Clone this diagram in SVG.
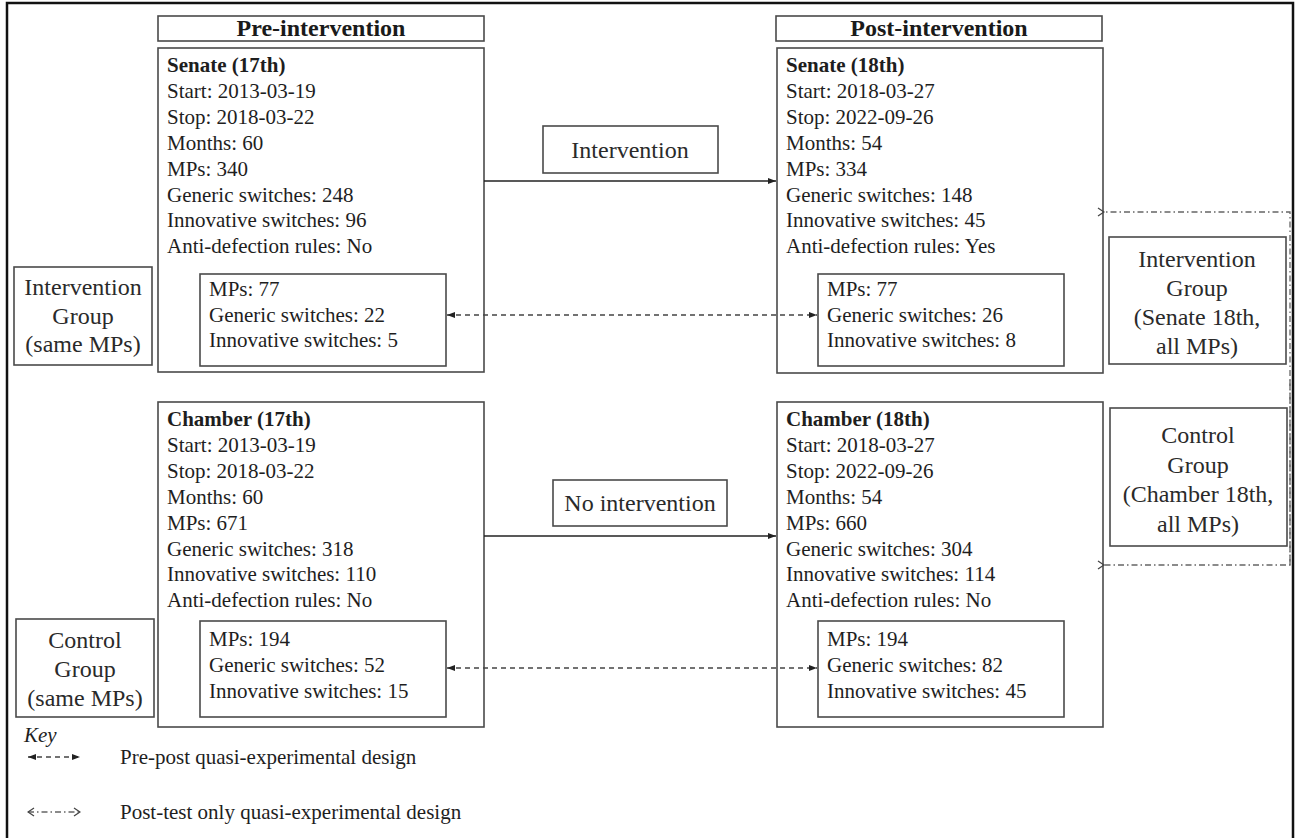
<svg xmlns="http://www.w3.org/2000/svg" width="1295" height="838" viewBox="0 0 1295 838">
<defs>
<style>
.box{fill:#fff;stroke:#4a4a4a;stroke-width:1.6}
.t{font-family:"Liberation Serif","Times New Roman",serif;font-size:21px;fill:#1e1e1e}
.b{font-weight:bold}
.h{font-family:"Liberation Serif","Times New Roman",serif;font-size:24px;font-weight:bold;fill:#1a1a1a}
.g{font-family:"Liberation Serif","Times New Roman",serif;font-size:24px;fill:#2a2a2a;text-anchor:middle}
.solid{stroke:#222;stroke-width:1.4;fill:none}
.dash{stroke:#444;stroke-width:1.5;fill:none;stroke-dasharray:5 4}
.dashdot{stroke:#666;stroke-width:1.3;fill:none;stroke-dasharray:6 3 1.5 3}
</style>
<marker id="fa" markerUnits="userSpaceOnUse" markerWidth="10" markerHeight="8" refX="8" refY="4" orient="auto-start-reverse"><path d="M0,1 L8,4 L0,7 Z" fill="#222"/></marker>
<marker id="oa" markerUnits="userSpaceOnUse" markerWidth="10" markerHeight="10" refX="1" refY="5" orient="auto"><path d="M7,1 L1,5 L7,9" fill="none" stroke="#444" stroke-width="1.3"/></marker>
<marker id="oe" markerUnits="userSpaceOnUse" markerWidth="10" markerHeight="10" refX="9" refY="5" orient="auto-start-reverse"><path d="M3,1 L9,5 L3,9" fill="none" stroke="#444" stroke-width="1.3"/></marker>
</defs>
<rect x="0" y="0" width="1295" height="838" fill="#fff"/>
<rect x="7" y="3" width="1286" height="850" fill="none" stroke="#111" stroke-width="2.5"/>

<g id="pre-title"><rect class="box" x="158" y="16" width="326" height="25"/><text class="h" x="321" y="36" text-anchor="middle">Pre-intervention</text></g>
<g id="post-title"><rect class="box" x="776" y="16" width="326" height="25"/><text class="h" x="939" y="36" text-anchor="middle">Post-intervention</text></g>

<g id="senate17"><rect class="box" x="158" y="48" width="326" height="324"/>
<text class="t" x="167" y="72"><tspan class="b">Senate (17th)</tspan><tspan x="167" dy="25.9">Start: 2013-03-19</tspan><tspan x="167" dy="25.9">Stop: 2018-03-22</tspan><tspan x="167" dy="25.9">Months: 60</tspan><tspan x="167" dy="25.9">MPs: 340</tspan><tspan x="167" dy="25.9">Generic switches: 248</tspan><tspan x="167" dy="25.9">Innovative switches: 96</tspan><tspan x="167" dy="25.9">Anti-defection rules: No</tspan></text></g>
<g id="senate17-sub"><rect class="box" x="200" y="274" width="246" height="92"/>
<text class="t" x="209" y="296">MPs: 77<tspan x="209" dy="25.5">Generic switches: 22</tspan><tspan x="209" dy="25.5">Innovative switches: 5</tspan></text></g>

<g id="senate18"><rect class="box" x="777" y="48" width="326" height="325"/>
<text class="t" x="786" y="72"><tspan class="b">Senate (18th)</tspan><tspan x="786" dy="25.9">Start: 2018-03-27</tspan><tspan x="786" dy="25.9">Stop: 2022-09-26</tspan><tspan x="786" dy="25.9">Months: 54</tspan><tspan x="786" dy="25.9">MPs: 334</tspan><tspan x="786" dy="25.9">Generic switches: 148</tspan><tspan x="786" dy="25.9">Innovative switches: 45</tspan><tspan x="786" dy="25.9">Anti-defection rules: Yes</tspan></text></g>
<g id="senate18-sub"><rect class="box" x="818" y="274" width="246" height="92"/>
<text class="t" x="827" y="296">MPs: 77<tspan x="827" dy="25.5">Generic switches: 26</tspan><tspan x="827" dy="25.5">Innovative switches: 8</tspan></text></g>

<g id="chamber17"><rect class="box" x="158" y="402" width="326" height="325"/>
<text class="t" x="167" y="426"><tspan class="b">Chamber (17th)</tspan><tspan x="167" dy="25.9">Start: 2013-03-19</tspan><tspan x="167" dy="25.9">Stop: 2018-03-22</tspan><tspan x="167" dy="25.9">Months: 60</tspan><tspan x="167" dy="25.9">MPs: 671</tspan><tspan x="167" dy="25.9">Generic switches: 318</tspan><tspan x="167" dy="25.9">Innovative switches: 110</tspan><tspan x="167" dy="25.9">Anti-defection rules: No</tspan></text></g>
<g id="chamber17-sub"><rect class="box" x="200" y="621" width="246" height="96"/>
<text class="t" x="209" y="646">MPs: 194<tspan x="209" dy="26">Generic switches: 52</tspan><tspan x="209" dy="26">Innovative switches: 15</tspan></text></g>

<g id="chamber18"><rect class="box" x="777" y="402" width="326" height="325"/>
<text class="t" x="786" y="426"><tspan class="b">Chamber (18th)</tspan><tspan x="786" dy="25.9">Start: 2018-03-27</tspan><tspan x="786" dy="25.9">Stop: 2022-09-26</tspan><tspan x="786" dy="25.9">Months: 54</tspan><tspan x="786" dy="25.9">MPs: 660</tspan><tspan x="786" dy="25.9">Generic switches: 304</tspan><tspan x="786" dy="25.9">Innovative switches: 114</tspan><tspan x="786" dy="25.9">Anti-defection rules: No</tspan></text></g>
<g id="chamber18-sub"><rect class="box" x="818" y="621" width="246" height="96"/>
<text class="t" x="827" y="646">MPs: 194<tspan x="827" dy="26">Generic switches: 82</tspan><tspan x="827" dy="26">Innovative switches: 45</tspan></text></g>

<g id="intervention"><rect class="box" x="543" y="126" width="175" height="47"/><text class="g" x="630" y="158">Intervention</text></g>
<g id="no-intervention"><rect class="box" x="553" y="480" width="174" height="46"/><text class="g" x="640" y="511">No intervention</text></g>

<g id="int-group-same"><rect class="box" x="14" y="267" width="138" height="98"/><text class="g" x="83" y="295">Intervention<tspan x="83" dy="28.5">Group</tspan><tspan x="83" dy="28.5">(same MPs)</tspan></text></g>
<g id="ctrl-group-same"><rect class="box" x="16" y="619" width="138" height="98"/><text class="g" x="85" y="648">Control<tspan x="85" dy="29">Group</tspan><tspan x="85" dy="29">(same MPs)</tspan></text></g>

<g id="int-group-all"><rect class="box" x="1109" y="237" width="177" height="127"/><text class="g" x="1197" y="267">Intervention<tspan x="1197" dy="29">Group</tspan><tspan x="1197" dy="29">(Senate 18th,</tspan><tspan x="1197" dy="29">all MPs)</tspan></text></g>
<g id="ctrl-group-all"><rect class="box" x="1110" y="408" width="177" height="138"/><text class="g" x="1198" y="443">Control<tspan x="1198" dy="29.5">Group</tspan><tspan x="1198" dy="29.5">(Chamber 18th,</tspan><tspan x="1198" dy="29.5">all MPs)</tspan></text></g>

<g id="connectors">
<line class="solid" x1="484" y1="181" x2="776" y2="181" marker-end="url(#fa)"/>
<line class="solid" x1="484" y1="536" x2="776" y2="536" marker-end="url(#fa)"/>
<line class="dash" x1="447" y1="315" x2="817" y2="315" marker-start="url(#fa)" marker-end="url(#fa)"/>
<line class="dash" x1="447" y1="668" x2="817" y2="668" marker-start="url(#fa)" marker-end="url(#fa)"/>
<polyline class="dashdot" points="1290,565 1290,212 1104,212" marker-end="url(#oa)"/>
<polyline class="dashdot" points="1290,380 1290,565 1104,565" marker-end="url(#oa)"/>
</g>

<g id="key">
<text class="t" x="24" y="742" font-style="italic" font-size="19">Key</text>
<line class="dash" x1="28" y1="757" x2="80" y2="757" stroke-dasharray="3 3" marker-start="url(#fa)" marker-end="url(#fa)"/>
<text class="t" x="120" y="764">Pre-post quasi-experimental design</text>
<line class="dashdot" x1="28" y1="812" x2="80" y2="812" stroke-dasharray="3 3" marker-start="url(#oe)" marker-end="url(#oe)"/>
<text class="t" x="120" y="819">Post-test only quasi-experimental design</text>
</g>
</svg>
